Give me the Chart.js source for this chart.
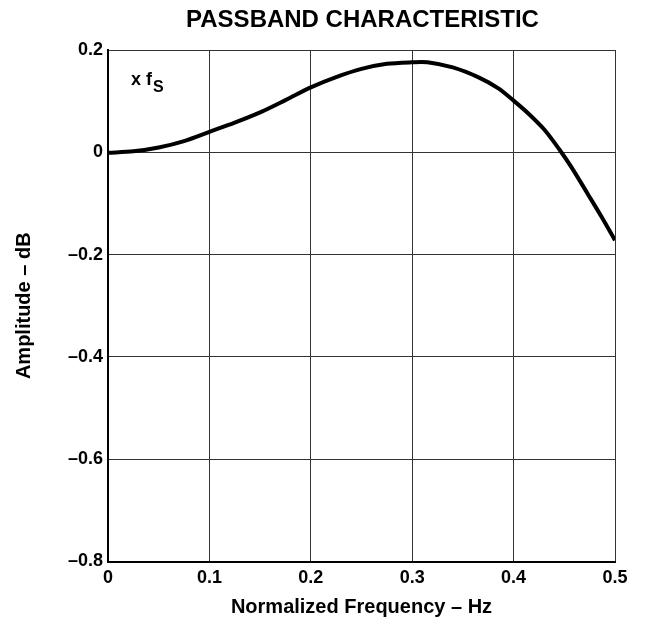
<!DOCTYPE html>
<html>
<head>
<meta charset="utf-8">
<script src="https://cdn.jsdelivr.net/npm/chart.js@4"></script>
<style>
  html, body { margin: 0; padding: 0; background: #fff; }
</style>
</head>
<body>
<canvas id="myChart" width="645" height="619"></canvas>
<script>
  // normalized frequency (Hz) and passband amplitude (dB)
  const freq = [0, 0.025, 0.05, 0.075, 0.1, 0.125, 0.15, 0.175, 0.2, 0.225, 0.25, 0.275, 0.3, 0.315, 0.34, 0.365, 0.385, 0.4, 0.415, 0.43, 0.445, 0.457, 0.473, 0.487, 0.5];
  const amplitude = [-0.001, 0.002, 0.0095, 0.022, 0.040, 0.058, 0.078, 0.102, 0.127, 0.147, 0.163, 0.173, 0.176, 0.176, 0.166, 0.147, 0.125, 0.101, 0.075, 0.045, 0.006, -0.029, -0.081, -0.127, -0.172];

  const xTicks = [0, 0.1, 0.2, 0.3, 0.4, 0.5];
  const yTicks = [0.2, 0, -0.2, -0.4, -0.6, -0.8];

  const fontFamily = '"Liberation Sans", Arial, sans-serif';

  function fmt(v) {
    if (Math.abs(v) < 1e-9) return '0';
    return v.toFixed(1).replace('-', '\u2013');
  }

  // title centred over the plot and the "x fS" note
  const textPlugin = {
    id: 'textPlugin',
    afterDraw(chart) {
      const c = chart.ctx;
      const area = chart.chartArea;
      c.save();
      c.fillStyle = '#000';
      c.textBaseline = 'alphabetic';
      c.font = 'bold 24px ' + fontFamily;
      c.textAlign = 'center';
      c.fillText('PASSBAND CHARACTERISTIC', (area.left + area.right) / 2 + 1, 27);

      c.textAlign = 'left';
      c.font = 'bold 18px ' + fontFamily;
      c.fillText('x f', area.left + 23, area.top + 35);
      const w = c.measureText('x f').width;
      c.font = 'bold 16px ' + fontFamily;
      c.fillText('S', area.left + 24 + w, area.top + 42);
      c.restore();
    }
  };

  const ctx = document.getElementById('myChart');

  var chart = new Chart(ctx, {
    type: 'line',
    data: {
      datasets: [{
        label: 'Amplitude',
        data: freq.map((f, i) => ({ x: f, y: amplitude[i] })),
        borderWidth: 4,
        borderColor: '#000',
        backgroundColor: '#000',
        pointRadius: 0,
        tension: 0.3,
        fill: false
      }]
    },
    plugins: [textPlugin],
    options: {
      responsive: false,
      animation: false,
      layout: {
        padding: { top: 50, right: 30, left: 0, bottom: 0 }
      },
      plugins: {
        legend: { display: false },
        title: { display: false },
        tooltip: { enabled: false }
      },
      scales: {
        x: {
          type: 'linear',
          min: 0,
          max: 0.5,
          afterBuildTicks: (scale) => { scale.ticks = xTicks.map(v => ({ value: v })); },
          afterFit: (scale) => { scale.height = 57.5; },
          grid: { color: '#333', lineWidth: 1, drawTicks: false },
          border: { color: '#000', width: 2 },
          ticks: {
            color: '#000',
            padding: 6,
            maxRotation: 0,
            font: { family: fontFamily, size: 18, weight: 'bold' },
            callback: (v) => fmt(v)
          },
          title: {
            display: true,
            text: 'Normalized Frequency \u2013 Hz',
            color: '#000',
            padding: { top: 0, bottom: 0 },
            font: { family: fontFamily, size: 20, weight: 'bold' }
          }
        },
        y: {
          min: -0.8,
          max: 0.2,
          afterBuildTicks: (scale) => { scale.ticks = yTicks.map(v => ({ value: v })); },
          afterFit: (scale) => { scale.width = 108; },
          grid: { color: '#333', lineWidth: 1, drawTicks: false },
          border: { color: '#000', width: 2 },
          ticks: {
            color: '#000',
            padding: 5,
            font: { family: fontFamily, size: 18, weight: 'bold' },
            callback: (v) => fmt(v)
          },
          title: {
            display: true,
            text: 'Amplitude \u2013 dB',
            color: '#000',
            padding: { top: 12, bottom: 0 },
            font: { family: fontFamily, size: 20, weight: 'bold' }
          }
        }
      }
    }
  });
</script>
</body>
</html>
